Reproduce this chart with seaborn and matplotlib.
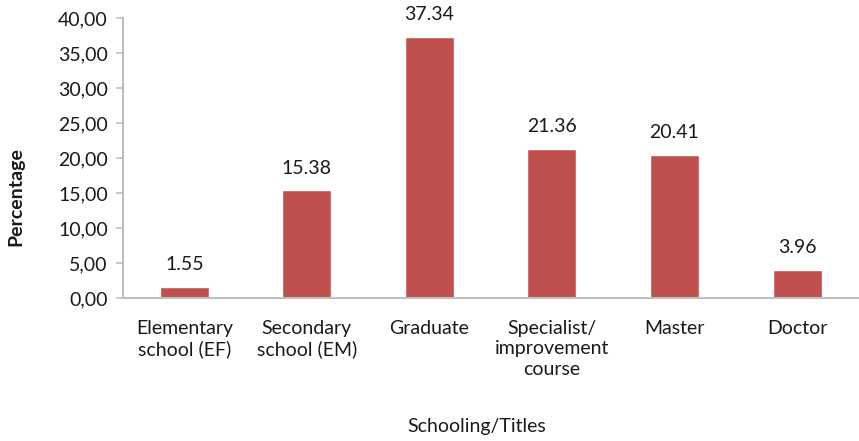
import matplotlib
matplotlib.use("Agg")
import matplotlib.pyplot as plt
import seaborn as sns
import pandas as pd
from matplotlib.ticker import FuncFormatter

# Data
categories = [
    "Elementary\nschool (EF)",
    "Secondary\nschool (EM)",
    "Graduate",
    "Specialist/\nimprovement\ncourse",
    "Master",
    "Doctor",
]
values = [1.55, 15.38, 37.34, 21.36, 20.41, 3.96]

df = pd.DataFrame({"category": categories, "value": values})

sns.set_style("white")
plt.rcParams["font.family"] = ["Lato", "DejaVu Sans"]

fig = plt.figure(figsize=(8.59, 4.41), dpi=100)
ax = fig.add_axes([0.1432, 0.324, 0.856, 0.635])

sns.barplot(data=df, x="category", y="value", color="#C0504D",
            width=0.4, saturation=1, ax=ax)

for i, v in enumerate(values):
    ax.text(i, v + 3.2, f"{v:.2f}", ha="center", va="center", fontsize=14,
            color="#1a1a1a")

ax.set_ylim(0, 40)
ax.set_yticks(range(0, 41, 5))
ax.yaxis.set_major_formatter(FuncFormatter(lambda y, p: f"{y:.2f}".replace(".", ",")))
ax.set_xlim(-0.5, 5.5)

for s in ["top", "right"]:
    ax.spines[s].set_visible(False)
for s in ["left", "bottom"]:
    ax.spines[s].set_color("#BFBFBF")
    ax.spines[s].set_linewidth(1.5)

ax.tick_params(axis="y", which="both", left=True, length=5, width=1.2,
               color="#BFBFBF", labelsize=14, labelcolor="#1a1a1a", pad=6)
ax.tick_params(axis="x", bottom=False, labelsize=14, labelcolor="#1a1a1a", pad=12)
for lab in ax.get_xticklabels():
    lab.set_linespacing(1.25)

ax.set_xlabel("")
ax.set_ylabel("")
fig.text(0.555, 0.032, "Schooling/Titles", ha="center", va="center",
         fontsize=14, color="#1a1a1a")
fig.text(0.018, 0.555, "Percentage", ha="center", va="center", rotation=90,
         fontsize=14, fontweight="bold", color="#1a1a1a")

fig.savefig("out.png", dpi=100)
